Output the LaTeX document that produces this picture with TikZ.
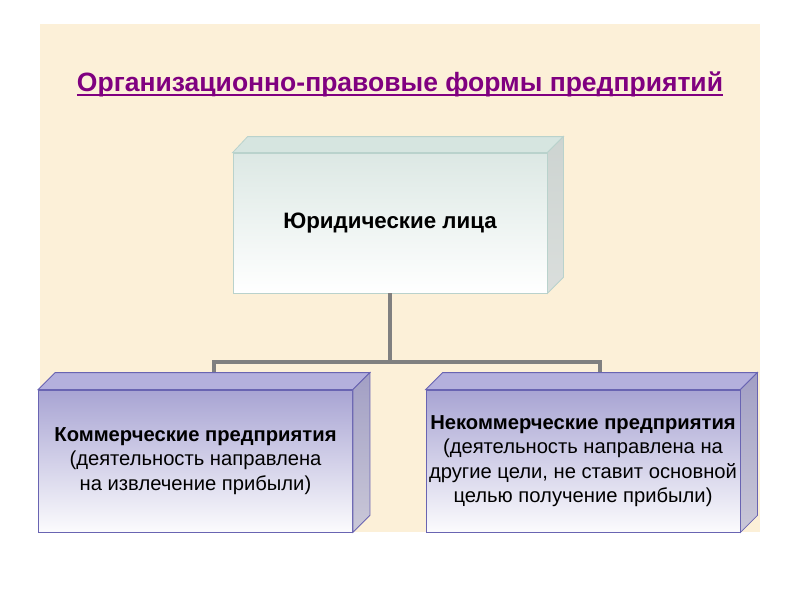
\documentclass[tikz,border=0pt]{standalone}
\usepackage{fontspec}
\setmainfont{Liberation Sans}
\definecolor{bg}{RGB}{252,240,216}
\definecolor{ttl}{RGB}{128,0,128}
\definecolor{topA}{RGB}{220,232,228}
\definecolor{topEdge}{RGB}{185,210,204}
\definecolor{topSide}{RGB}{205,212,209}
\definecolor{topSideB}{RGB}{218,222,220}
\definecolor{topLid}{RGB}{214,229,224}
\definecolor{botA}{RGB}{168,164,211}
\definecolor{botEdge}{RGB}{105,100,178}
\definecolor{botSide}{RGB}{162,159,196}
\definecolor{botSideB}{RGB}{202,200,216}
\definecolor{botLid}{RGB}{180,176,221}
\definecolor{conn}{RGB}{128,128,128}
\tikzset{
  frontface/.style={draw, line width=0.8pt, inner sep=0pt, align=center},
  topfront/.style={frontface, draw=topEdge, top color=topA, bottom color=white,
    minimum width=314pt, minimum height=140pt, font=\bfseries\fontsize{22.3}{26}\selectfont},
  botfront/.style={frontface, draw=botEdge, top color=botA, bottom color=white!96!botA,
    minimum width=314pt, minimum height=142pt, font=\fontsize{20.2}{24.5}\selectfont},
  connector/.style={draw=conn, line width=4pt},
  titlestyle/.style={font=\bfseries\fontsize{26.5}{30}\selectfont, text=ttl, inner sep=0pt, anchor=base}
}
\begin{document}
\begin{tikzpicture}[x=1pt,y=-1pt]
\useasboundingbox (0,0) rectangle (800,600);
\fill[bg] (40,24) rectangle (760,532);
% title
\node[titlestyle] (title) at (400,91) {Организационно-правовые формы предприятий};
\draw[ttl, line width=2pt] ([yshift=-4pt]title.base west) -- ([yshift=-4pt]title.base east);
% nodes
\node[topfront] (jur) at (390,223) {Юридические лица};
\node[botfront] (kom) at (195.5,461) {\textbf{Коммерческие предприятия}\\(деятельность направлена\\на извлечение прибыли)};
\node[botfront] (nekom) at (583,461) {\textbf{Некоммерческие предприятия}\\(деятельность направлена на\\другие цели, не ставит основной\\целью получение прибыли)};
% connectors (behind lids)
\coordinate (branch) at (390,362);
\draw[connector] (jur.south) -- (branch);
\draw[connector] ([xshift=18pt]kom.north) |- (branch);
\draw[connector] ([xshift=17pt]nekom.north) |- (branch);
% bottom box lids/sides
\foreach \n in {kom,nekom}{
  \fill[botLid, draw=botEdge, line width=0.8pt] (\n.north west) -- ++(17,-17) -- ([shift={(17,-17)}]\n.north east) -- (\n.north east) -- cycle;
  \shade[top color=botSide, bottom color=botSideB, draw=botEdge, line width=0.8pt] (\n.north east) -- ++(17,-17) -- ([shift={(17,-17)}]\n.south east) -- (\n.south east) -- cycle;
}
% top box lid and side
\fill[topLid, draw=topEdge, line width=0.8pt] (jur.north west) -- ++(15,-16) -- ([shift={(16,-16)}]jur.north east) -- (jur.north east) -- cycle;
\shade[top color=topSide, bottom color=topSideB, draw=topEdge, line width=0.8pt] (jur.north east) -- ++(16,-16) -- ([shift={(16,-16)}]jur.south east) -- (jur.south east) -- cycle;
% redraw connector over top box bottom edge
\draw[connector] (jur.south) -- (branch);
\end{tikzpicture}
\end{document}
